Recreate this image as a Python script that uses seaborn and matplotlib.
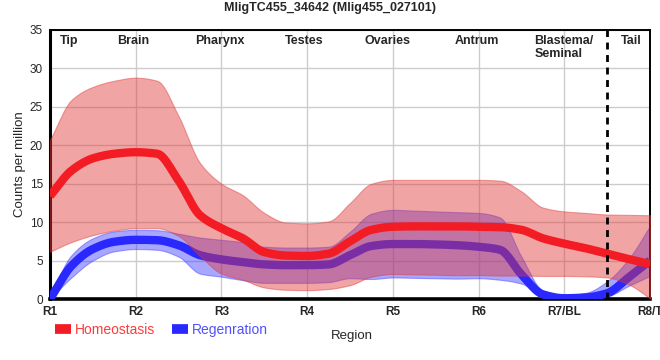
import numpy as np
import pandas as pd
import matplotlib
matplotlib.use("Agg")
import matplotlib.pyplot as plt
import seaborn as sns
from matplotlib.lines import Line2D

# ---------------- data ----------------
region_ticks = ["R1", "R2", "R3", "R4", "R5", "R6", "R7/BL", "R8/T"]
sections = ["Tip", "Brain", "Pharynx", "Testes", "Ovaries", "Antrum",
            "Blastema/\nSeminal", "Tail"]

position = [0.0, 0.25, 0.5, 0.75, 1.0, 1.25, 1.5, 1.75,
            2.0, 2.25, 2.5, 2.75, 3.0, 3.25, 3.5, 3.75,
            4.0, 4.25, 4.5, 4.75, 5.0, 5.25, 5.5, 5.75,
            6.0, 6.25, 6.5, 6.75, 7.0]

home_mean = [13.4, 16.7, 18.3, 18.9, 19.1, 18.9, 15.4, 10.9,
             9.2, 7.9, 6.1, 5.65, 5.6, 5.9, 7.5, 9.0,
             9.4, 9.45, 9.45, 9.45, 9.4, 9.35, 9.0, 7.9,
             7.2, 6.6, 5.9, 5.2, 4.55]
home_hi = [20.7, 25.9, 27.6, 28.4, 28.8, 28.4, 23.8, 17.7,
           15.0, 13.5, 11.2, 9.95, 9.85, 10.1, 12.5, 15.0,
           15.5, 15.5, 15.5, 15.5, 15.5, 15.4, 14.0, 11.9,
           11.4, 11.2, 11.0, 10.95, 10.9]
home_lo = [6.15, 7.4, 8.3, 8.9, 9.2, 9.2, 8.2, 5.6,
           3.3, 2.5, 1.5, 1.2, 1.15, 1.3, 1.8, 2.9,
           3.25, 3.2, 3.15, 3.1, 3.1, 3.05, 3.05, 3.0,
           3.0, 2.95, 2.8, 1.9, 0.1]

regen_mean = [0.0, 4.3, 6.5, 7.45, 7.7, 7.65, 7.0, 5.7,
              5.15, 4.8, 4.5, 4.4, 4.4, 4.5, 5.7, 6.9,
              7.15, 7.15, 7.1, 7.0, 6.8, 6.4, 3.2, 0.6,
              0.1, 0.2, 0.75, 2.8, 5.0]
regen_hi = [0.5, 5.7, 7.9, 8.8, 9.0, 8.95, 8.5, 8.0,
            7.7, 7.4, 6.8, 6.7, 6.7, 6.8, 8.75, 11.1,
            11.6, 11.5, 11.4, 11.3, 11.2, 10.6, 5.5, 1.1,
            0.5, 0.8, 2.3, 5.2, 9.5]
regen_lo = [0.0, 2.8, 5.0, 6.2, 6.5, 6.4, 5.5, 3.3,
            2.9, 2.45, 2.1, 2.1, 2.1, 2.2, 2.7, 2.6,
            2.8, 2.75, 2.7, 2.65, 2.7, 2.5, 2.0, 0.4,
            -0.3, -0.2, 0.3, 1.7, 3.0]

series_names = ["Homeostasis", "Regenration"]


# ---------- monotone cubic curve style (render only, passes through data) ----------
def monotone_curve(x, y, per_seg=12):
    x = np.asarray(x, float)
    y = np.asarray(y, float)
    h = np.diff(x)
    delta = np.diff(y) / h
    d = np.zeros_like(y)
    for k in range(1, len(y) - 1):
        if delta[k - 1] * delta[k] > 0:
            w1 = 2 * h[k] + h[k - 1]
            w2 = h[k] + 2 * h[k - 1]
            d[k] = (w1 + w2) / (w1 / delta[k - 1] + w2 / delta[k])
    d[0] = delta[0]
    d[-1] = delta[-1]
    xs, ys = [], []
    for k in range(len(h)):
        t = np.linspace(0, 1, per_seg, endpoint=(k == len(h) - 1))
        h00 = 2 * t**3 - 3 * t**2 + 1
        h10 = t**3 - 2 * t**2 + t
        h01 = -2 * t**3 + 3 * t**2
        h11 = t**3 - t**2
        xs.append(x[k] + t * h[k])
        ys.append(h00 * y[k] + h10 * h[k] * d[k] + h01 * y[k + 1] + h11 * h[k] * d[k + 1])
    return np.concatenate(xs), np.concatenate(ys)


# ---------------- styling ----------------
sns.set_style("white")
plt.rcParams["font.family"] = ["Liberation Sans", "DejaVu Sans"]

RED_LINE = "#f31c24"
RED_FILL = "#e13737"
BLUE_LINE = "#2828ff"
BLUE_FILL = "#3c3cff"

hx, hm = monotone_curve(position, home_mean)
_, hh = monotone_curve(position, home_hi)
_, hl = monotone_curve(position, home_lo)
rx, rm = monotone_curve(position, regen_mean)
_, rh = monotone_curve(position, regen_hi)
_, rl = monotone_curve(position, regen_lo)

curves = pd.DataFrame({
    "position": np.concatenate([hx, rx]),
    "value": np.concatenate([hm, rm]),
    "series": [series_names[0]] * len(hx) + [series_names[1]] * len(rx),
})

fig = plt.figure(figsize=(6.6, 3.6), dpi=100)
ax = fig.add_axes([50 / 660, 61 / 360, 600 / 660, 269 / 360])

# bands and lines (blue band, blue line, red band, red line)
ax.fill_between(rx, rl, rh, color=BLUE_FILL, alpha=0.45, linewidth=0.8, zorder=2)
sns.lineplot(data=curves[curves["series"] == series_names[1]], x="position", y="value",
             color=BLUE_LINE, linewidth=6, ax=ax, zorder=3, legend=False,
             sort=False, estimator=None, solid_capstyle="butt")
ax.fill_between(hx, hl, hh, color=RED_FILL, alpha=0.45, linewidth=0.8, zorder=4)
sns.lineplot(data=curves[curves["series"] == series_names[0]], x="position", y="value",
             color=RED_LINE, linewidth=6, ax=ax, zorder=5, legend=False,
             sort=False, estimator=None, solid_capstyle="butt")

# boundary between blastema and tail
ax.axvline(6.5, color="black", linewidth=2, linestyle=(0, (2.5, 2)), zorder=6)

ax.set_xlim(0, 7)
ax.set_ylim(0, 35)
ax.set_xticks(range(len(region_ticks)))
ax.set_xticklabels(region_ticks, fontweight="bold", fontsize=8.5)
ax.set_yticks(range(0, 36, 5))
ax.tick_params(axis="y", labelsize=8.5, length=3, width=1, color="black", pad=2)
ax.tick_params(axis="x", length=4, width=1, color="black", pad=1)
ax.grid(True, color="#cccccc", linewidth=1, zorder=0)
ax.set_axisbelow(True)

for side, lw in [("bottom", 2.6), ("left", 2.2), ("top", 1.4), ("right", 1.4)]:
    ax.spines[side].set_visible(True)
    ax.spines[side].set_color("black")
    ax.spines[side].set_linewidth(lw)

ax.set_xlabel("Region", fontsize=9.5, labelpad=5)
ax.set_ylabel("Counts per million", fontsize=9.5, labelpad=3)
ax.xaxis.set_label_coords(0.503, -0.115)

# section labels along the top
sec_x = [0.22, 0.97, 1.98, 2.96, 3.94, 4.98, 5.65, 6.78]
for sx, name in zip(sec_x, sections):
    if "\n" in name:
        ax.text(sx, 34.3, name, ha="left", va="top", fontweight="bold",
                fontsize=9, linespacing=1.05, zorder=7)
    else:
        ax.text(sx, 34.3, name, ha="center", va="top", fontweight="bold",
                fontsize=9, zorder=7)

fig.suptitle("MligTC455_34642 (Mlig455_027101)", fontweight="bold",
             fontsize=9, y=0.995)

handles = [Line2D([0], [0], color=RED_LINE, linewidth=7, solid_capstyle="butt"),
           Line2D([0], [0], color=BLUE_LINE, linewidth=7, solid_capstyle="butt")]
fig.legend(handles, series_names, loc="center left",
           bbox_to_anchor=(0.064, 0.083), ncol=2, frameon=False,
           handlelength=1.15, handletextpad=0.3, columnspacing=1.2,
           fontsize=10, labelcolor=["#ff3b3b", "#5050ff"])

fig.savefig("out.png", dpi=100)
